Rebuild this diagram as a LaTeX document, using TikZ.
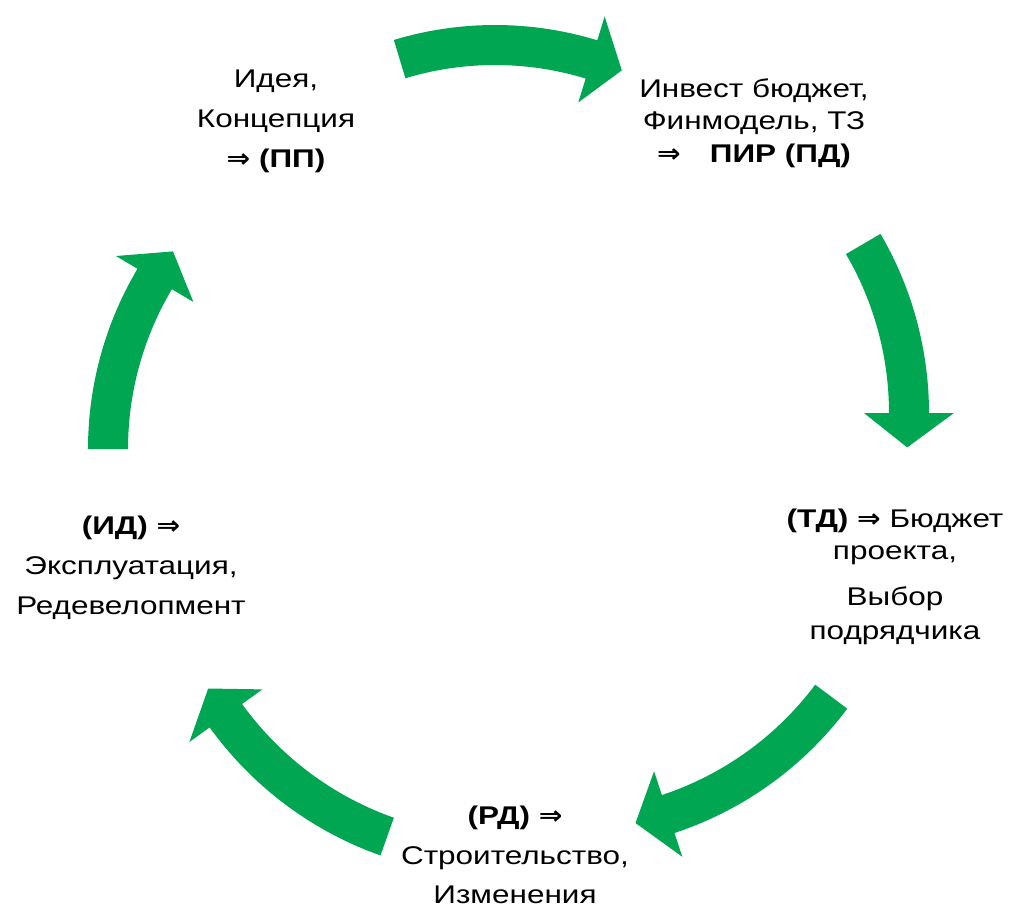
\documentclass[tikz,border=0pt]{standalone}
\usepackage{fontspec}
\setmainfont{Liberation Sans}[FakeStretch=1.23]
\newfontfamily\arrowfont{DejaVu Sans}[FakeStretch=1.1]
\definecolor{cyclegreen}{HTML}{00A651}

% bold double arrow
\newcommand{\impl}{{\arrowfont\bfseries ⇒}}
% curved block arrow: centre x, centre y, radius, tail angle, head base angle, tip angle
\newcommand{\stagearrow}[6]{%
	\fill[cyclegreen] plot[domain=#4:#5,samples=30] ({#1+(#3+20)*cos(\x)},{#2+(#3+20)*sin(\x)})
		-- ({#1+(#3+45)*cos(#5)},{#2+(#3+45)*sin(#5)})
		-- ({#1+#3*cos(#6)},{#2+#3*sin(#6)})
		-- ({#1+(#3-45)*cos(#5)},{#2+(#3-45)*sin(#5)})
		-- plot[domain=#5:#4,samples=30] ({#1+(#3-20)*cos(\x)},{#2+(#3-20)*sin(\x)})
		-- cycle;}

\begin{document}
\begin{tikzpicture}[x=0.75pt,y=-0.75pt,
		stage/.style={align=center,inner sep=0pt,font=\fontsize{19.2}{30}\selectfont}]
		\useasboundingbox (0,0) rectangle (1018,906);
		\stagearrow{495}{375}{330}{253.2}{287}{292.6}
		\stagearrow{574}{413}{335}{329.7}{360}{365.9}
		\stagearrow{563}{496}{335}{36.8}{71.7}{77.5}
		\stagearrow{500}{518}{338}{109.5}{144.2}{149.7}
		\stagearrow{441}{449}{333}{180}{210.7}{216.4}
		\node[stage] (idea) at (276,121) {Идея,\\ Концепция\\ \textbf{\impl\ (ПП)}};
		\node[stage,font=\fontsize{19.2}{24.5}\selectfont] (invest) at (754,123)
			{Инвест бюджет,\\ Финмодель, ТЗ\\ \textbf{\impl\hspace{0.8em} ПИР (ПД)}};
		\node[stage,font=\fontsize{19.2}{24}\selectfont] (tender) at (895,577)
			{\textbf{(ТД) \impl} Бюджет\\ проекта,\\[10.5pt] Выбор\\[2pt] подрядчика};
		\node[stage,font=\fontsize{19.2}{29.5}\selectfont] (build) at (515,855) {\textbf{(РД) \impl}\\ Строительство,\\ Изменения};
		\node[stage] (operate) at (131,568) {\textbf{(ИД) \impl}\\ Эксплуатация,\\ Редевелопмент};
	\end{tikzpicture}
\end{document}
